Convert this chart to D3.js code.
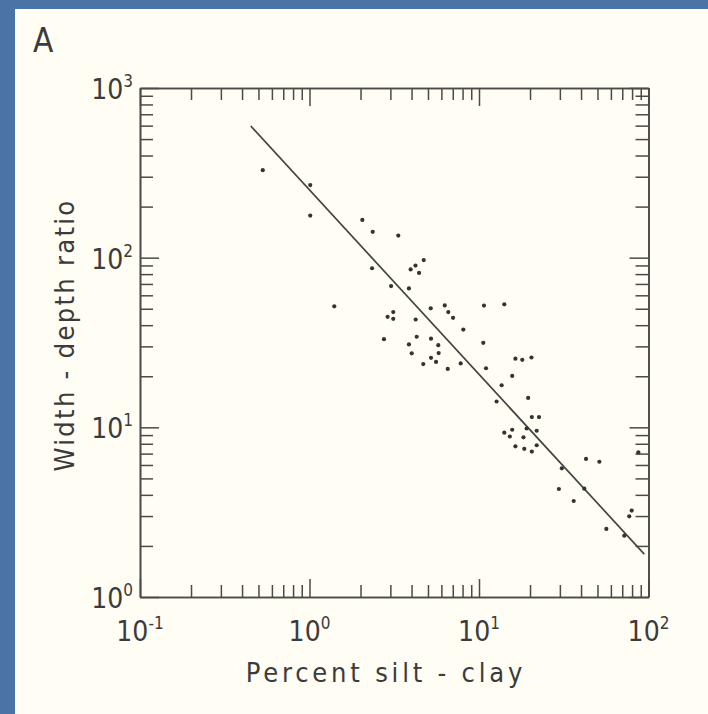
<!DOCTYPE html>
<html>
<head>
<meta charset="utf-8">
<style>
html, body { margin: 0; padding: 0; background: #4b73a5; }
svg { display: block; }
text { font-family: "Liberation Sans Narrow", "DejaVu Sans Condensed", sans-serif; fill: #3b3b3b; }
</style>
</head>
<body>
<div id="chart"></div>
<script src="https://d3js.org/d3.v7.min.js"></script>
<script>
// percent silt-clay in channel perimeter
const siltClay = [0.53, 1.01, 1.01, 2.05, 2.36, 3.34, 2.34, 3.03, 3.86, 3.95,
  4.22, 4.43, 4.72, 1.40, 3.12, 2.89, 3.12, 5.19, 4.23, 2.75,
  4.29, 5.21, 3.86, 4.01, 5.75, 5.78, 5.21, 5.58, 4.69, 6.28,
  6.59, 7.03, 8.08, 10.7, 14.1, 6.54, 7.80, 10.6, 11.0, 16.4,
  18.0, 20.4, 15.7, 13.6, 12.7, 19.5, 20.5, 22.6, 15.7, 14.1,
  15.2, 19.1, 21.9, 18.3, 16.4, 18.5, 20.5, 21.9, 42.8, 51.3,
  30.8, 29.6, 41.8, 36.2, 79.6, 77.0, 87.1, 56.4, 72.0];
// width-depth ratio for the same channels
const widthDepth = [328, 268, 177, 167, 142, 135, 86.6, 68.0, 65.9, 85.3,
  89.8, 81.3, 96.8, 51.7, 47.8, 44.8, 43.6, 50.3, 43.2, 33.1,
  34.2, 33.3, 30.8, 27.3, 30.5, 27.4, 25.7, 24.3, 23.6, 52.3,
  47.8, 44.2, 37.7, 52.2, 53.1, 22.1, 23.8, 31.5, 22.3, 25.4,
  25.0, 25.8, 20.1, 17.7, 14.2, 14.9, 11.5, 11.5, 9.68, 9.30,
  8.83, 9.84, 9.55, 8.73, 7.73, 7.47, 7.20, 7.84, 6.51, 6.27,
  5.73, 4.33, 4.35, 3.68, 3.23, 2.99, 7.12, 2.52, 2.30];

// ends of the fitted line
const fitX = [0.45, 94.4];
const fitY = [597, 1.79];

const xExponents = ["-1", "0", "1", "2"];
const yExponents = ["0", "1", "2", "3"];

const width = 708, height = 714;

const svg = d3.select("#chart").append("svg")
  .attr("width", width)
  .attr("height", height);

// cream page on the blue slide
svg.append("rect")
  .attr("x", 15).attr("y", 9)
  .attr("width", width - 15).attr("height", height - 9)
  .attr("fill", "#fffdf4");

const x = d3.scaleLog().domain([0.1, 100]).range([140, 648.5]);
const y = d3.scaleLog().domain([1, 1000]).range([597, 88]);

const isMajor = d => Math.abs(Math.log10(d) - Math.round(Math.log10(d))) < 1e-9;
const xMinor = x.ticks().filter(d => !isMajor(d));
const xMajor = x.ticks().filter(isMajor);
const yMinor = y.ticks().filter(d => !isMajor(d));
const yMajor = y.ticks().filter(isMajor);

const axisColor = "#4a4a4a";

function drawAxis(axisFn, scale, values, size, transform) {
  const g = svg.append("g")
    .attr("transform", transform)
    .call(axisFn(scale).tickValues(values).tickSize(-size).tickSizeOuter(0).tickFormat(""));
  g.select(".domain").attr("stroke", axisColor).attr("stroke-width", 1.6);
  g.selectAll(".tick line").attr("stroke", axisColor).attr("stroke-width", 1.5);
}

const plotBottom = y.range()[0], plotTop = y.range()[1];
const plotLeft = x.range()[0], plotRight = x.range()[1];

// ticks point into the plot on all four sides
[[xMinor, 12], [xMajor, 18]].forEach(([v, s]) => {
  drawAxis(d3.axisBottom, x, v, s, `translate(0,${plotBottom})`);
  drawAxis(d3.axisTop, x, v, s, `translate(0,${plotTop})`);
});
[[yMinor, 13], [yMajor, 19]].forEach(([v, s]) => {
  drawAxis(d3.axisLeft, y, v, s, `translate(${plotLeft},0)`);
  drawAxis(d3.axisRight, y, v, s, `translate(${plotRight},0)`);
});

// fitted line
svg.append("line")
  .attr("x1", x(fitX[0])).attr("y1", y(fitY[0]))
  .attr("x2", x(fitX[1])).attr("y2", y(fitY[1]))
  .attr("stroke", "#444")
  .attr("stroke-width", 1.7);

// data points
svg.append("g")
  .selectAll("circle")
  .data(siltClay.map((d, i) => [d, widthDepth[i]]))
  .join("circle")
  .attr("cx", d => x(d[0]))
  .attr("cy", d => y(d[1]))
  .attr("r", 2.1)
  .attr("fill", "#333");

// tick labels: 10 with superscript exponent
const xl = svg.append("g").selectAll("text")
  .data(xMajor)
  .join("text")
  .attr("x", d => x(d))
  .attr("y", plotBottom + 44)
  .attr("text-anchor", "middle")
  .attr("font-size", 28);
xl.append("tspan").text("10");
xl.append("tspan").attr("font-size", 17).attr("dy", -12).text((d, i) => xExponents[i]);

const yl = svg.append("g").selectAll("text")
  .data(yMajor)
  .join("text")
  .attr("x", plotLeft - 7)
  .attr("y", d => y(d) + 11)
  .attr("text-anchor", "end")
  .attr("font-size", 28);
yl.append("tspan").text("10");
yl.append("tspan").attr("font-size", 17).attr("dy", -12).text((d, i) => yExponents[i]);

// axis titles
svg.append("text")
  .attr("x", 386).attr("y", 682)
  .attr("text-anchor", "middle")
  .attr("font-size", 27)
  .attr("letter-spacing", 3.8)
  .text("Percent silt - clay");

svg.append("text")
  .attr("transform", "translate(74,335) rotate(-90)")
  .attr("text-anchor", "middle")
  .attr("font-size", 27)
  .attr("letter-spacing", 2.3)
  .text("Width - depth ratio");

// panel letter
svg.append("text")
  .attr("x", 33).attr("y", 52)
  .attr("font-size", 33)
  .text("A");
</script>
</body>
</html>
